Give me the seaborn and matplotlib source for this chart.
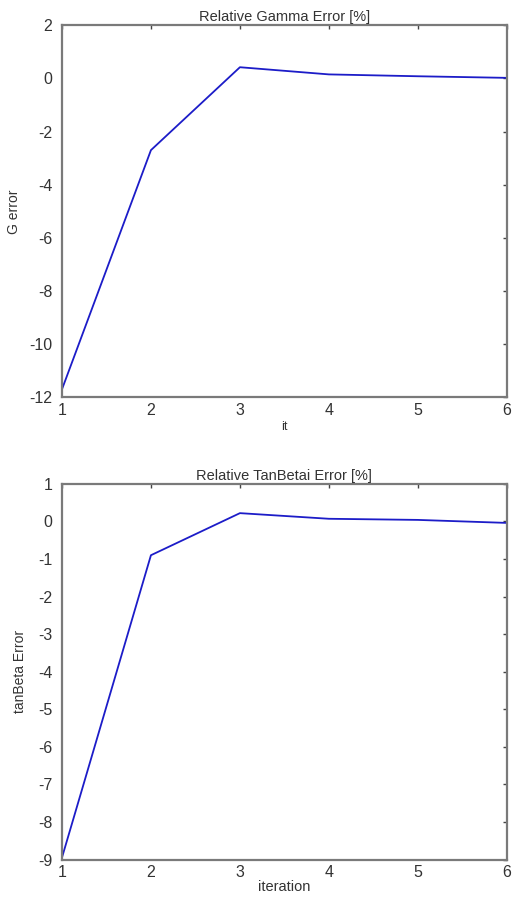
import matplotlib
matplotlib.use("Agg")
import matplotlib.pyplot as plt
import seaborn as sns
import pandas as pd

iterations = [1, 2, 3, 4, 5, 6]
gamma_error = [-11.7, -2.7, 0.42, 0.15, 0.08, 0.02]
tanbeta_error = [-8.95, -0.9, 0.22, 0.07, 0.04, -0.04]

sns.set_style("white")
plt.rcParams['font.family'] = ['Liberation Sans', 'DejaVu Sans']
plt.rcParams['axes.unicode_minus'] = False

fig = plt.figure(figsize=(5.12, 9.01), dpi=100)
ax1 = fig.add_axes([0.121, 0.559, 0.869, 0.413])
ax2 = fig.add_axes([0.121, 0.046, 0.869, 0.417])

df1 = pd.DataFrame({"it": iterations, "err": gamma_error})
df2 = pd.DataFrame({"it": iterations, "err": tanbeta_error})

line_color = "#1c1cc8"
sns.lineplot(data=df1, x="it", y="err", ax=ax1, color=line_color, lw=1.3)
sns.lineplot(data=df2, x="it", y="err", ax=ax2, color=line_color, lw=1.3)

spine_col = "#7a7a7a"
for ax in (ax1, ax2):
    ax.set_xlim(1, 6)
    ax.set_xticks(iterations)
    for s in ax.spines.values():
        s.set_color(spine_col)
        s.set_linewidth(1.6)
        s.set_visible(True)
    ax.tick_params(direction="in", length=3, width=1, color="#444444",
                   top=True, right=True, labelsize=11.5, labelcolor="#333333")
    ax.tick_params(axis="y", pad=7)
    ax.tick_params(axis="x", pad=4)

ax1.set_ylim(-12, 2)
ax1.set_yticks([-12, -10, -8, -6, -4, -2, 0, 2])
ax1.set_title("Relative Gamma Error [%]", fontsize=10.5, color="#333333", pad=3)
ax1.set_xlabel("it", fontsize=9, color="#333333", labelpad=2)
ax1.set_ylabel("G error", fontsize=10, color="#333333", labelpad=6)

ax2.set_ylim(-9, 1)
ax2.set_yticks(list(range(-9, 2)))
ax2.set_title("Relative TanBetai Error [%]", fontsize=10.5, color="#333333", pad=3)
ax2.set_xlabel("iteration", fontsize=10.5, color="#333333", labelpad=0)
ax2.set_ylabel("tanBeta Error", fontsize=10, color="#333333", labelpad=8)

fig.savefig("out.png", dpi=100)
